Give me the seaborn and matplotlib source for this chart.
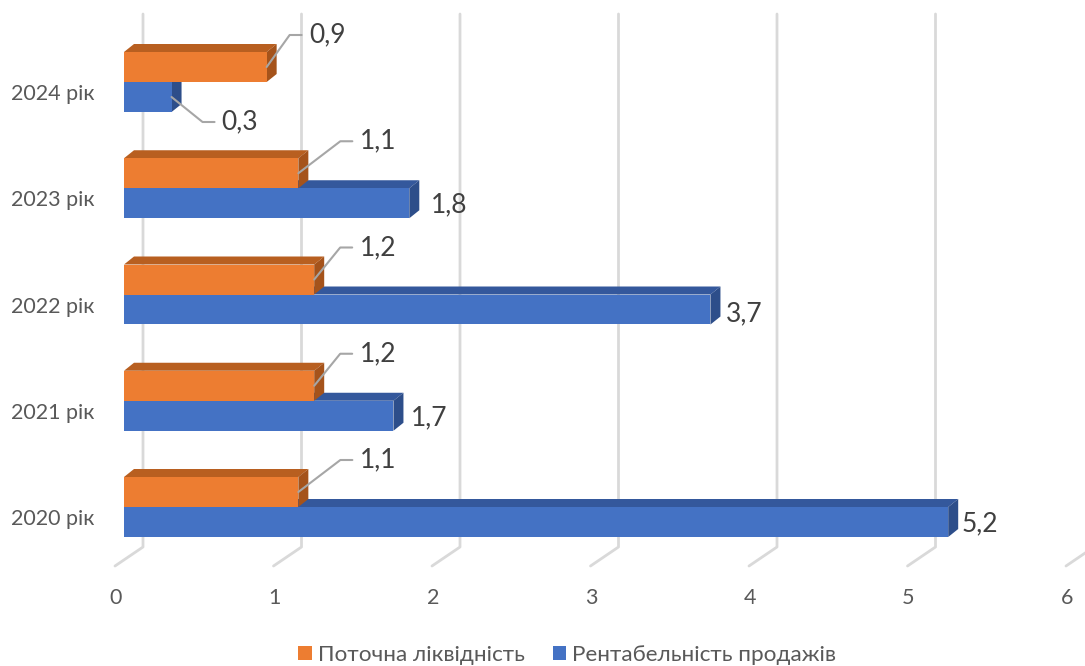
import numpy as np
import pandas as pd
import matplotlib
matplotlib.use('Agg')
import matplotlib.pyplot as plt
import seaborn as sns
from matplotlib.patches import Polygon, Patch
from matplotlib.lines import Line2D
from matplotlib.transforms import IdentityTransform, ScaledTranslation

# ---------------- data ----------------
years = ['2024 рік', '2023 рік', '2022 рік', '2021 рік', '2020 рік']
liquidity = [0.9, 1.1, 1.2, 1.2, 1.1]          # Поточна ліквідність
profitability = [0.3, 1.8, 3.7, 1.7, 5.2]      # Рентабельність продажів
series = ['Поточна ліквідність', 'Рентабельність продажів']
xticks = [0, 1, 2, 3, 4, 5, 6]

# ---------------- style ----------------
colors = ['#ED7D31', '#4472C4']
top_colors = ['#B85F20', '#34589C']
side_colors = ['#A5531B', '#2D4E8A']
grid_color = '#D9D9D9'
text_color = '#595959'
label_color = '#404040'
leader_color = '#A6A6A6'

df = pd.DataFrame({
    'year': years * 2,
    'value': liquidity + profitability,
    'series': [series[0]] * len(years) + [series[1]] * len(years),
})

sns.set_theme(style='white')
plt.rcParams['font.family'] = ['Lato', 'DejaVu Sans']

W, H = 1085, 666
fig = plt.figure(figsize=(W / 100, H / 100), dpi=100)
ax = fig.add_axes([124 / W, (H - 566) / H, (1075 - 124) / W, (566 - 15) / H])

sns.barplot(data=df, y='year', x='value', hue='series', order=years,
            hue_order=series, palette=colors, orient='h', width=0.5647,
            saturation=1, errorbar=None, legend=False, ax=ax)

ax.set_xlim(0, 6)
ax.set_ylim(4.5553, -0.6306)
sns.despine(ax=ax, left=True, bottom=True)
ax.set_xlabel('')
ax.set_ylabel('')
ax.grid(False)

fig.canvas.draw()
ident = IdentityTransform()


def px(x, y):
    d = ax.transData.transform((x, y))
    return d[0], H - d[1]


def disp(pts):
    return [(p[0], H - p[1]) for p in pts]


# back gridlines with floor perspective
for t in xticks:
    xf, _ = px(t, 0)
    pts = disp([(xf + 19, 14), (xf + 19, 547), (xf - 9, 566)])
    ax.add_artist(Line2D([p[0] for p in pts], [p[1] for p in pts],
                         transform=ident, color=grid_color, lw=2.0,
                         zorder=0.5, clip_on=False))

# 3D depth faces
DX, DY = 10, 8
for si, cont in enumerate(ax.containers):
    base_z = 3 if si == 0 else 2
    for bar in cont:
        bar.set_zorder(base_z)
        bar.set_edgecolor('none')
        x0 = bar.get_x()
        x1 = x0 + bar.get_width()
        yb = bar.get_y()
        yt = yb + bar.get_height()
        X0, Ya = px(x0, yb)
        X1, Yb = px(x1, yt)
        ytop, ybot = min(Ya, Yb), max(Ya, Yb)
        top = disp([(X0, ytop), (X0 + DX, ytop - DY), (X1 + DX, ytop - DY), (X1, ytop)])
        side = disp([(X1, ytop), (X1 + DX, ytop - DY), (X1 + DX, ybot - DY), (X1, ybot)])
        ax.add_artist(Polygon(top, closed=True, transform=ident, facecolor=top_colors[si],
                              edgecolor='none', zorder=base_z - 0.2, clip_on=False))
        ax.add_artist(Polygon(side, closed=True, transform=ident, facecolor=side_colors[si],
                              edgecolor='none', zorder=base_z - 0.2, clip_on=False))

# value labels
orange_text_dx = [43, 62, 46, 46, 62]
blue_text_off = [(50, 25), (22, 2), (15, 4), (17, 2), (13, 2)]


def fmt(v):
    return f'{v:.1f}'.replace('.', ',')


for i, bar in enumerate(ax.containers[0]):
    v = liquidity[i]
    xe, yc = px(bar.get_x() + bar.get_width(), bar.get_y() + bar.get_height() / 2)
    tdx = orange_text_dx[i]
    ty = yc - 32
    pts = disp([(xe, yc), (xe + tdx - 20, ty), (xe + tdx - 8, ty)])
    ax.add_artist(Line2D([p[0] for p in pts], [p[1] for p in pts], transform=ident,
                         color=leader_color, lw=1.5, zorder=4, clip_on=False))
    ax.text(xe + tdx, H - ty, fmt(v), transform=ident, ha='left', va='center',
            fontsize=19, color=label_color, zorder=5)

for i, bar in enumerate(ax.containers[1]):
    v = profitability[i]
    xe, yc = px(bar.get_x() + bar.get_width(), bar.get_y() + bar.get_height() / 2)
    dx, dy = blue_text_off[i]
    ty = yc + dy
    if dy > 10:
        pts = disp([(xe, yc), (xe + dx - 19, ty), (xe + dx - 7, ty)])
        ax.add_artist(Line2D([p[0] for p in pts], [p[1] for p in pts], transform=ident,
                             color=leader_color, lw=1.5, zorder=4, clip_on=False))
    ax.text(xe + dx, H - ty, fmt(v), transform=ident, ha='left', va='center',
            fontsize=19, color=label_color, zorder=5)

# ticks
ax.set_xticks(xticks)
ax.set_xticklabels([str(t) for t in xticks])
ax.tick_params(axis='x', length=0, pad=16, labelsize=15.5, labelcolor=text_color)
ax.tick_params(axis='y', length=0, pad=21, labelsize=15.5, labelcolor=text_color)
for lab in ax.get_xticklabels():
    lab.set_transform(lab.get_transform() + ScaledTranslation(-8 / 100, 0, fig.dpi_scale_trans))
for lab in ax.get_yticklabels():
    lab.set_transform(lab.get_transform() + ScaledTranslation(0, -10 / 100, fig.dpi_scale_trans))

# legend
handles = [Patch(facecolor=c, edgecolor='none') for c in colors]
fig.legend(handles=handles, labels=series, loc='center',
           bbox_to_anchor=(567 / W, 1 - 655 / H), ncol=2, frameon=False,
           fontsize=16.2, handlelength=0.6, handleheight=0.6,
           handletextpad=0.25, columnspacing=1.25, labelcolor=text_color)

fig.savefig('out.png', dpi=100)
